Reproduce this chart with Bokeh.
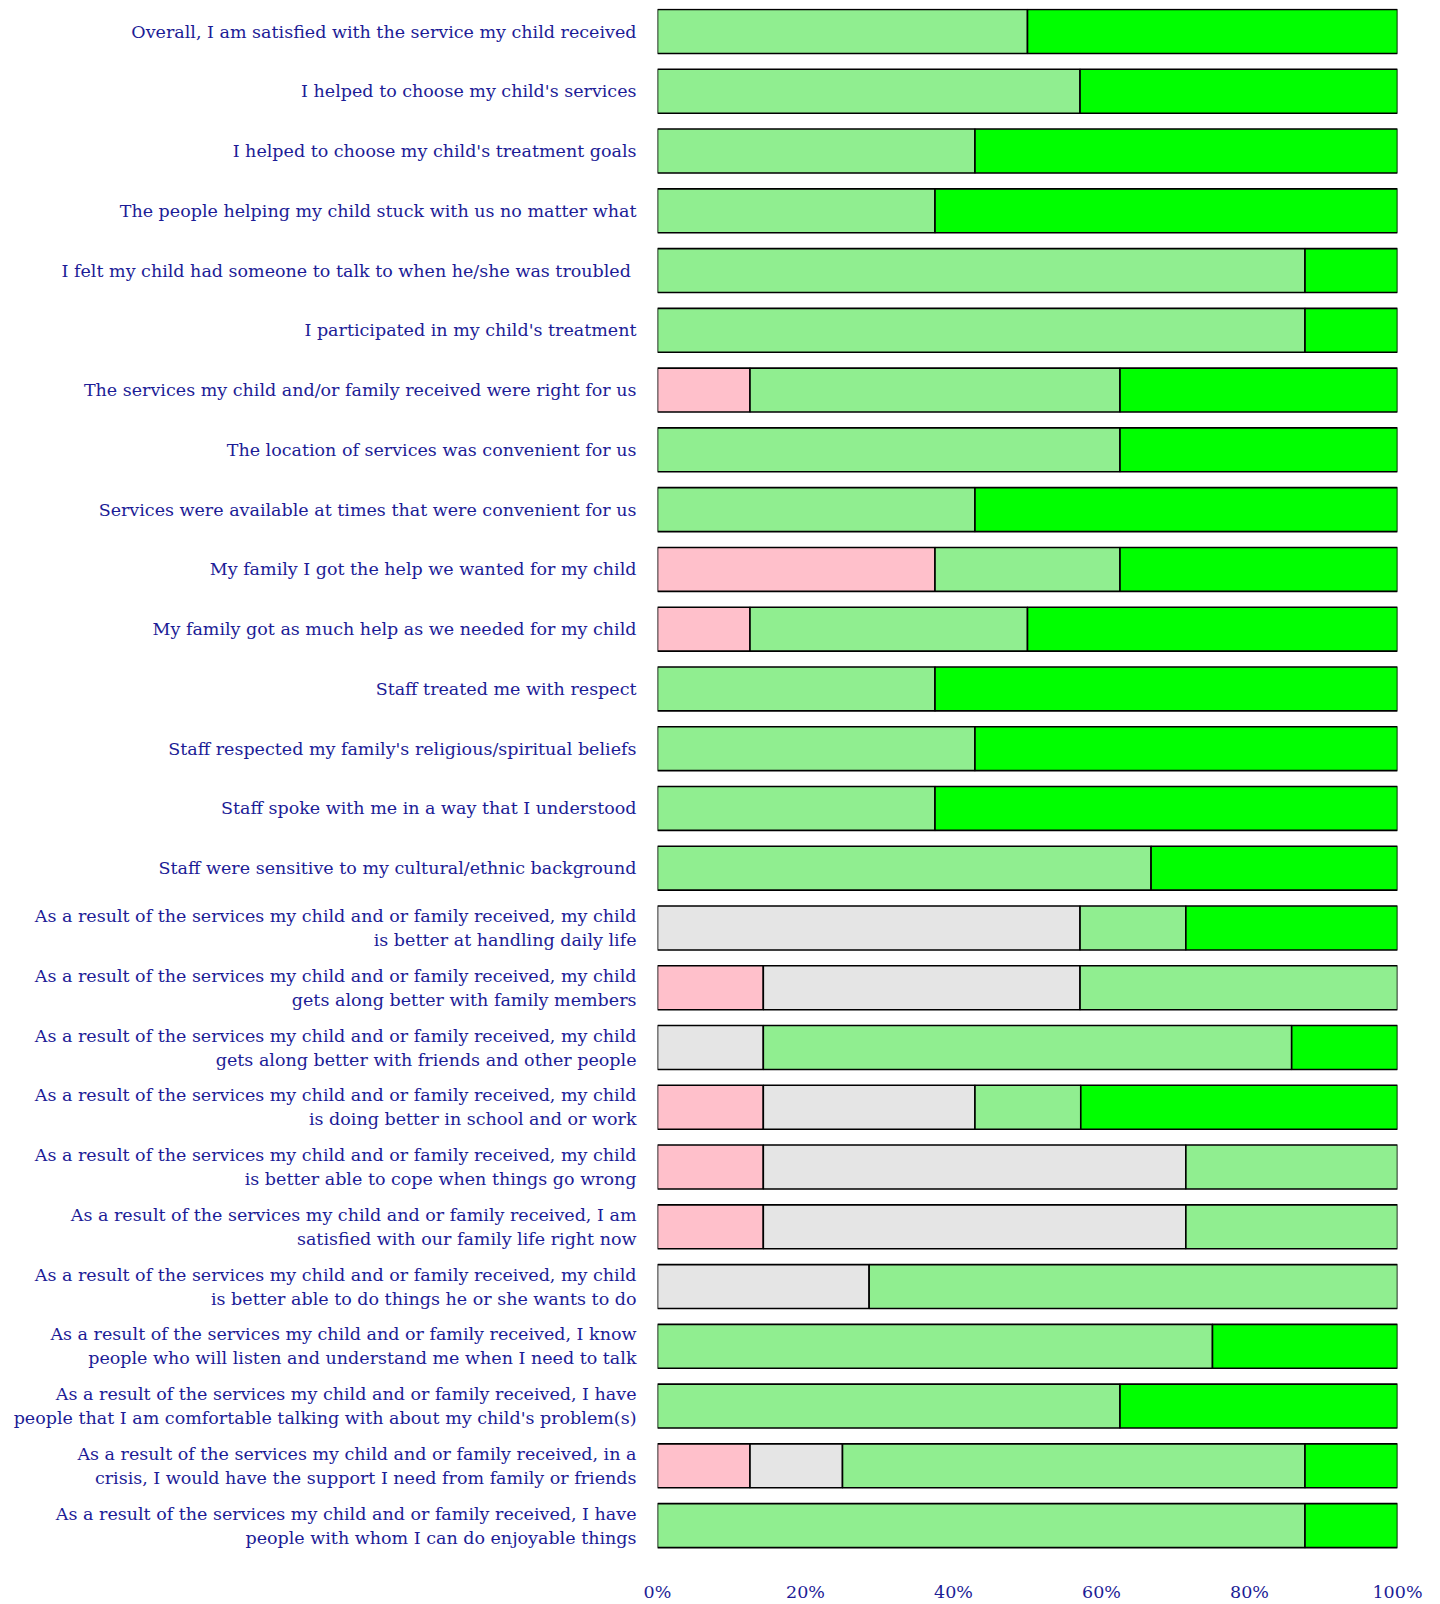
from bokeh.plotting import figure
from bokeh.models import Range1d, FixedTicker, ColumnDataSource, CDSView, IndexFilter
from bokeh.embed import file_html
from bokeh.resources import INLINE

questions = [
    "Overall, I am satisfied with the service my child received",
    "I helped to choose my child's services",
    "I helped to choose my child's treatment goals",
    "The people helping my child stuck with us no matter what",
    "I felt my child  had someone to talk to when he/she was troubled",
    "I participated in my child's treatment",
    "The services my child and/or family received were right for us",
    "The location of services was convenient for us",
    "Services were available at times that were convenient for us",
    "My family I got the help we wanted for my child",
    "My family got as much help as we needed for my child",
    "Staff treated me with respect",
    "Staff respected my family's religious/spiritual beliefs",
    "Staff spoke with me in a way that I understood",
    "Staff were sensitive to my cultural/ethnic background",
    "As a result of the services my child and or family received, my child\nis better at handling daily life",
    "As a result of the services my child and or family received, my child\ngets along better with family members",
    "As a result of the services my child and or family received, my child\ngets along better with friends and other people",
    "As a result of the services my child and or family received, my child\nis doing better in school and or work",
    "As a result of the services my child and or family received, my child\nis better able to cope when things go wrong",
    "As a result of the services my child and or family received, I am\nsatisfied with our family life right now",
    "As a result of the services my child and or family received, my child\nis better able to do things he or she wants to do",
    "As a result of the services my child and or family received, I know\npeople who will listen and understand me when I need to talk",
    "As a result of the services my child and or family received, I have\npeople that I am comfortable talking with about my child's problem(s)",
    "As a result of the services my child and or family received, in a\ncrisis, I would have the support I need from family or friends",
    "As a result of the services my child and or family received, I have\npeople with whom I can do enjoyable things",
]

disagree = [0, 0, 0, 0, 0, 0, 12.5, 0, 0, 37.5, 12.5, 0, 0, 0, 0,
            0, 14.3, 0, 14.3, 14.3, 14.3, 0, 0, 0, 12.5, 0]
neutral = [0, 0, 0, 0, 0, 0, 0, 0, 0, 0, 0, 0, 0, 0, 0,
           57.1, 42.8, 14.3, 28.6, 57.1, 57.1, 28.6, 0, 0, 12.5, 0]
agree = [50, 57.1, 42.9, 37.5, 87.5, 87.5, 50, 62.5, 42.9, 25, 37.5, 37.5, 42.9, 37.5, 66.7,
         14.3, 42.9, 71.4, 14.3, 28.6, 28.6, 71.4, 75, 62.5, 62.5, 87.5]
strongly_agree = [50, 42.9, 57.1, 62.5, 12.5, 12.5, 37.5, 37.5, 57.1, 37.5, 50, 62.5, 57.1, 62.5, 33.3,
                  28.6, 0, 14.3, 42.8, 0, 0, 0, 25, 37.5, 12.5, 12.5]

series = [disagree, neutral, agree, strongly_agree]
colors = ["#FFC0CB", "#E5E5E5", "#90EE90", "#00FF00"]

x_ticks = [0, 20, 40, 60, 80, 100]
x_tick_labels = ["0%", "20%", "40%", "60%", "80%", "100%"]

n = len(questions)
ypos = list(range(n))

TEXT_COLOR = "#1c1c96"
FONT = "DejaVu Serif"

p = figure(width=1424, height=1604, output_backend="svg", toolbar_location=None,
           x_range=Range1d(0, 100), y_range=Range1d(25.5, -0.385))

left = [0.0] * n
for vals, col in zip(series, colors):
    right = [l + v for l, v in zip(left, vals)]
    src = ColumnDataSource(dict(y=ypos, left=left, right=right, w=vals))
    view_idx = [i for i, v in enumerate(vals) if v > 0]
    p.hbar(y="y", left="left", right="right", height=0.735, source=src,
           view=CDSView(filter=IndexFilter(view_idx)),
           fill_color=col, line_color="black", line_width=1.6)
    left = right

p.xaxis.ticker = FixedTicker(ticks=x_ticks)
p.xaxis.major_label_overrides = {t: l for t, l in zip(x_ticks, x_tick_labels)}
p.yaxis.ticker = FixedTicker(ticks=ypos)
p.yaxis.major_label_overrides = {i: q for i, q in enumerate(questions)}

for ax in (p.xaxis[0], p.yaxis[0]):
    ax.axis_line_color = None
    ax.major_tick_line_color = None
    ax.minor_tick_line_color = None
    ax.major_label_text_color = TEXT_COLOR
    ax.major_label_text_font = FONT
    ax.major_label_text_font_size = "17.5px"
    ax.major_label_text_line_height = 1.2

p.xaxis.major_label_text_line_height = 1.0
p.xaxis.major_label_standoff = 20
p.yaxis.major_label_standoff = 15

p.xgrid.grid_line_color = None
p.ygrid.grid_line_color = None
p.outline_line_color = None
p.min_border_top = 8
p.min_border_right = 27
p.min_border_left = 657
p.min_border_bottom = 0

open("out.html", "w").write(file_html(p, INLINE))
